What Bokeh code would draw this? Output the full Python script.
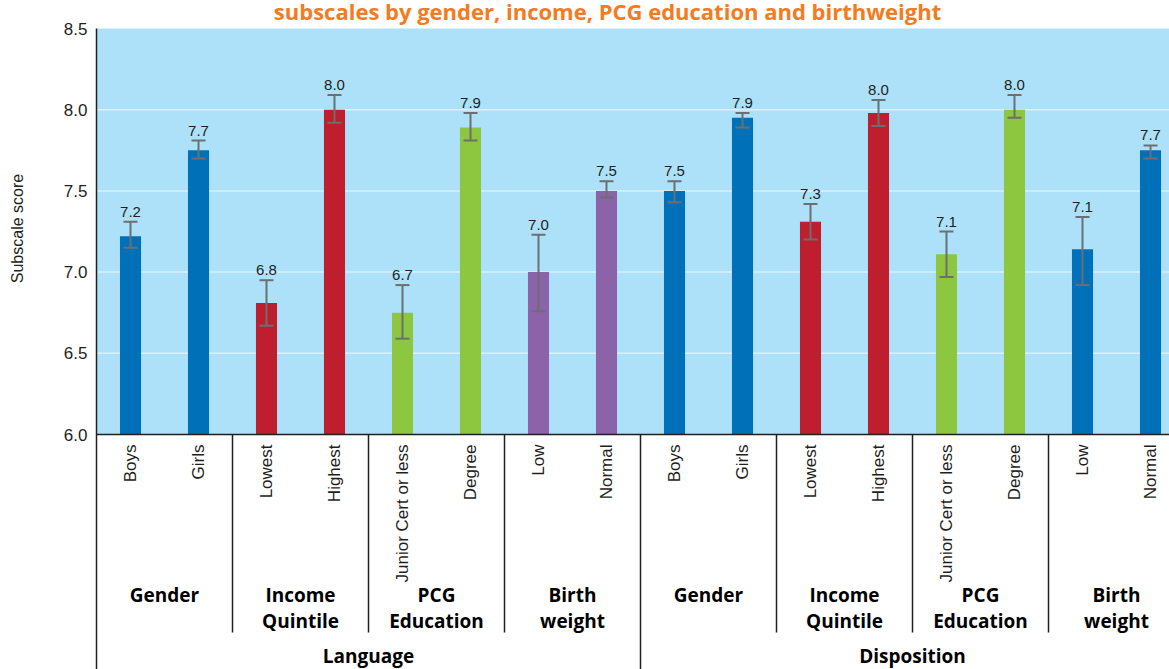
import numpy as np
from bokeh.plotting import figure
from bokeh.models import Range1d
from bokeh.core.properties import value
from bokeh.embed import file_html
from bokeh.resources import INLINE

# ---------------- data ----------------
title_text = "subscales by gender, income, PCG education and birthweight"
y_title = "Subscale score"
groups = ["Language", "Disposition"]
subgroup_line1 = ["Gender", "Income", "PCG", "Birth"]
subgroup_line2 = ["", "Quintile", "Education", "weight"]
categories = ["Boys", "Girls", "Lowest", "Highest", "Junior Cert or less", "Degree", "Low", "Normal"]

language_values = [7.22, 7.75, 6.81, 8.00, 6.75, 7.89, 7.00, 7.50]
language_lower = [7.15, 7.70, 6.67, 7.92, 6.59, 7.81, 6.76, 7.46]
language_upper = [7.31, 7.81, 6.95, 8.09, 6.92, 7.98, 7.23, 7.56]
language_labels = ["7.2", "7.7", "6.8", "8.0", "6.7", "7.9", "7.0", "7.5"]

disposition_values = [7.50, 7.95, 7.31, 7.98, 7.11, 8.00, 7.14, 7.75]
disposition_lower = [7.43, 7.89, 7.20, 7.90, 6.97, 7.95, 6.92, 7.70]
disposition_upper = [7.56, 7.98, 7.42, 8.06, 7.25, 8.09, 7.34, 7.78]
disposition_labels = ["7.5", "7.9", "7.3", "8.0", "7.1", "8.0", "7.1", "7.7"]

y_ticks = [6.0, 6.5, 7.0, 7.5, 8.0, 8.5]

# ---------------- styles ----------------
BLUE = "#0070B9"
RED = "#BE1E2D"
GREEN = "#8DC63F"
PURPLE = "#8C62A8"
language_colors = [BLUE, BLUE, RED, RED, GREEN, GREEN, PURPLE, PURPLE]
disposition_colors = [BLUE, BLUE, RED, RED, GREEN, GREEN, BLUE, BLUE]
BG = "#ADE1FA"
GRID = "#D9F1FC"
INK = "#231F20"
ERR = "#6D6E71"
SANS = "Liberation Sans"
BOLD = "Open Sans"

W, H = 1169, 669
PLOT_LEFT = 96          # pixel column of the value axis
BASE_ROW = 434          # pixel row of y = 6.0
PX_PER_CAT = 68.0
px_per_unit = (BASE_ROW - 28) / 2.5
y_base = y_ticks[0]
y_top = y_ticks[-1]


def y_at(row):
    return y_base + (BASE_ROW - row) / px_per_unit


def x_at(col):
    return (col - PLOT_LEFT) / PX_PER_CAT


x_end = x_at(W)
y_bottom = y_at(H)

p = figure(width=W, height=H, output_backend="svg", toolbar_location=None,
           x_range=Range1d(x_at(0), x_end), y_range=Range1d(y_bottom, y_at(0)),
           x_axis_location=None, y_axis_location=None,
           min_border=0, min_border_left=0, min_border_right=0,
           min_border_top=0, min_border_bottom=0)
p.outline_line_color = None
p.background_fill_color = "white"
p.border_fill_color = "white"
p.grid.visible = False

# plot area background and grid
p.quad(left=[0], right=[x_end], bottom=[y_base], top=[y_top], fill_color=BG, line_color=None)
gl = y_ticks[1:-1]
p.segment(x0=[0] * len(gl), y0=gl, x1=[x_end] * len(gl), y1=gl, line_color=GRID, line_width=1.5)

# value axis
p.segment(x0=[0], y0=[y_top], x1=[0], y1=[y_bottom], line_color=INK, line_width=1.5)
p.text(x=[0] * len(y_ticks), y=y_ticks, text=["%.1f" % t for t in y_ticks], x_offset=-9,
       text_align="right", text_baseline="alphabetic", text_font=value(SANS),
       text_font_size="17px", text_color=INK)
p.text(x=[x_at(17)], y=[y_at(228)], text=[y_title], angle=np.pi / 2, text_align="center",
       text_baseline="middle", text_font=value(SANS), text_font_size="16px", text_color=INK)

n = len(categories)
xs = [i + 0.5 for i in range(2 * n)]
vals = language_values + disposition_values
lows = language_lower + disposition_lower
ups = language_upper + disposition_upper
labels = language_labels + disposition_labels
colors = language_colors + disposition_colors

p.vbar(x=xs, width=0.31, bottom=y_base, top=vals, fill_color=colors, line_color=None)
p.segment(x0=xs, y0=lows, x1=xs, y1=ups, line_color=ERR, line_width=2)
p.scatter(x=xs, y=ups, marker="dash", size=14, line_color=ERR, line_width=2)
p.scatter(x=xs, y=lows, marker="dash", size=14, line_color=ERR, line_width=2)
p.text(x=xs, y=ups, text=labels, text_align="center", text_baseline="alphabetic",
       y_offset=-10, text_font=value(SANS), text_font_size="15px", text_color=INK)

# category axis line
p.segment(x0=[0], y0=[y_base], x1=[x_end], y1=[y_base], line_color=INK, line_width=1.5)

# category labels (rotated)
p.text(x=xs, y=[y_at(444)] * len(xs), text=categories * 2, angle=np.pi / 2,
       text_align="right", text_baseline="middle", text_font=value(SANS),
       text_font_size="17px", text_color=INK)

# subgroup labels
nsub = len(subgroup_line1)
per_sub = n // nsub
sub_x = [g * n + s * per_sub + per_sub / 2 for g in range(len(groups)) for s in range(nsub)]
p.text(x=sub_x, y=[y_at(594)] * len(sub_x), text=subgroup_line1 * 2, text_align="center",
       text_baseline="middle", text_font=value(BOLD), text_font_style="bold",
       text_font_size="19px", text_color="black")
p.text(x=sub_x, y=[y_at(620)] * len(sub_x), text=subgroup_line2 * 2, text_align="center",
       text_baseline="middle", text_font=value(BOLD), text_font_style="bold",
       text_font_size="19px", text_color="black")

# group labels
grp_x = [g * n + n / 2 for g in range(len(groups))]
p.text(x=grp_x, y=[y_at(655)] * len(grp_x), text=groups, text_align="center",
       text_baseline="middle", text_font=value(BOLD), text_font_style="bold",
       text_font_size="19px", text_color="black")

# separators
sub_sep = [g * n + s * per_sub for g in range(len(groups)) for s in range(1, nsub)]
p.segment(x0=sub_sep, y0=[y_base] * len(sub_sep), x1=sub_sep, y1=[y_at(632)] * len(sub_sep),
          line_color=INK, line_width=1.5)
grp_sep = [g * n for g in range(1, len(groups))]
p.segment(x0=grp_sep, y0=[y_base] * len(grp_sep), x1=grp_sep, y1=[y_bottom] * len(grp_sep),
          line_color=INK, line_width=1.5)

# title (cropped at the top in the reference)
p.text(x=[x_at(607)], y=[y_at(10)], text=[title_text], text_align="center",
       text_baseline="alphabetic", text_font=value(BOLD), text_font_style="bold",
       text_font_size="22px", text_color="#F47B20")

open("out.html", "w").write(file_html(p, INLINE))
